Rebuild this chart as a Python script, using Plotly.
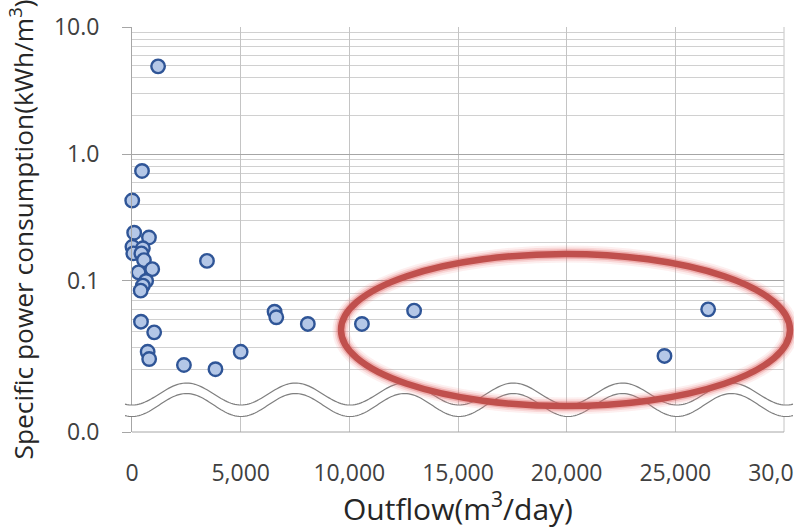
import math
import plotly.graph_objects as go

# ---- data ----
outflow = [10, 100, 780, 1200, 460, 20, 500, 60, 430, 550, 930, 300, 650, 500, 400,
           3450, 6560, 6640, 413, 1020, 720, 790, 2390, 3840, 5000, 8090, 10580,
           12980, 24500, 26510]
power = [0.43, 0.24, 0.22, 4.9, 0.735, 0.186, 0.181, 0.165, 0.165, 0.146, 0.124, 0.117,
         0.100, 0.092, 0.084, 0.144, 0.0573, 0.0518, 0.0478, 0.0394, 0.0277, 0.0243,
         0.0218, 0.0202, 0.0277, 0.0459, 0.0459, 0.0584, 0.0257, 0.0598]

x_ticks = [0, 5000, 10000, 15000, 20000, 25000, 30000]
x_ticktext = ["0", "5,000", "10,000", "15,000", "20,000", "25,000", "30,000"]
y_bottom = 0.00647
y_major = [y_bottom, 0.1, 1, 10]
y_major_text = ["0.0", "0.1", "1.0", "10.0"]
y_minor = [m * d for d in (0.01, 0.1, 1) for m in range(2, 10)]
x_title = "Outflow(m<sup>3</sup>/day)"
y_title = "Specific power consumption(kWh/m<sup>3</sup>)"

# ---- layout geometry (pixels) ----
W, H = 794, 529
L, R, T, B = 132, 784, 27, 432
pw, ph = R - L, B - T


def px2paper(px, py):
    return (px - L) / pw, (B - py) / ph


fig = go.Figure()
fig.add_trace(go.Scatter(
    x=outflow, y=power, mode="markers",
    marker=dict(size=13.5, color="#B4C7E7", line=dict(color="#2F5597", width=2.4)),
    showlegend=False, cliponaxis=False,
))

font_fam = "Open Sans, DejaVu Sans, sans-serif"

fig.update_layout(
    width=W, height=H,
    margin=dict(l=L, r=W - R, t=T, b=H - B, autoexpand=False),
    paper_bgcolor="white", plot_bgcolor="white",
    font=dict(family=font_fam, color="#404040"),
    xaxis=dict(
        range=[0, 30000], tickvals=x_ticks, ticktext=x_ticktext,
        showgrid=True, gridcolor="#C4C4C4", gridwidth=1,
        zeroline=False, showline=False, ticks="",
        tickfont=dict(size=23, color="#404040"), ticklabelstandoff=25,
        ticklabeloverflow="allow",
        title=dict(text=x_title, font=dict(size=30, color="#262626"), standoff=27),
    ),
    yaxis=dict(
        type="log", range=[math.log10(y_bottom), 1],
        tickmode="array", tickvals=y_major, ticktext=y_major_text,
        showgrid=True, gridcolor="#A6A6A6", gridwidth=1,
        ticks="outside", ticklen=9, tickcolor="#A6A6A6",
        minor=dict(tickmode="array", tickvals=y_minor, showgrid=True,
                   gridcolor="#D0D0D0", gridwidth=1, ticks=""),
        zeroline=False, showline=True, linecolor="#A6A6A6", linewidth=1,
        tickfont=dict(size=23, color="#404040"), ticklabelstandoff=18,
        title=dict(text=y_title, font=dict(size=26.3, color="#262626"), standoff=12),
    ),
)

# bottom axis line
fig.add_shape(type="line", xref="paper", yref="paper", x0=0, x1=1, y0=0, y1=0,
              line=dict(color="#A6A6A6", width=1), layer="above")
# right edge line
fig.add_shape(type="line", xref="paper", yref="paper", x0=1, x1=1, y0=0, y1=1,
              line=dict(color="#C4C4C4", width=1), layer="below")

# ---- axis-break wave band ----
period = 109.0
xs = [125 + 2 * i for i in range(0, 335)]
top = [(px, 394 + 11 * math.cos(2 * math.pi * (px - L) / period)) for px in xs]
bot = [(px, 405 + 11.5 * math.cos(2 * math.pi * (px - L) / period)) for px in xs]


def path_of(pts, close=False):
    parts = []
    for i, (px, py) in enumerate(pts):
        a, b = px2paper(px, py)
        parts.append(("M" if i == 0 else "L") + f"{a:.5f},{b:.5f}")
    return " ".join(parts) + (" Z" if close else "")


fig.add_shape(type="path", xref="paper", yref="paper", path=path_of(top + bot[::-1], True),
              fillcolor="white", line=dict(width=0), layer="above")
fig.add_shape(type="path", xref="paper", yref="paper", path=path_of(top),
              line=dict(color="#7F7F7F", width=1.2), layer="above")
fig.add_shape(type="path", xref="paper", yref="paper", path=path_of(bot),
              line=dict(color="#7F7F7F", width=1.2), layer="above")

# ---- highlighted ellipse with glow ----
ex0, ey0 = px2paper(341, 406)
ex1, ey1 = px2paper(790, 254)
for w, c in [(17, "rgba(235,120,120,0.12)"), (13, "rgba(235,120,120,0.2)"),
             (9.5, "rgba(220,100,100,0.35)"), (6.5, "#C0504D")]:
    fig.add_shape(type="circle", xref="paper", yref="paper",
                  x0=ex0, x1=ex1, y0=ey0, y1=ey1,
                  line=dict(color=c, width=w), layer="above")

fig.write_html("out.html", config={"displayModeBar": False},
               post_script="document.body.style.margin='0';document.body.style.overflow='hidden';")
